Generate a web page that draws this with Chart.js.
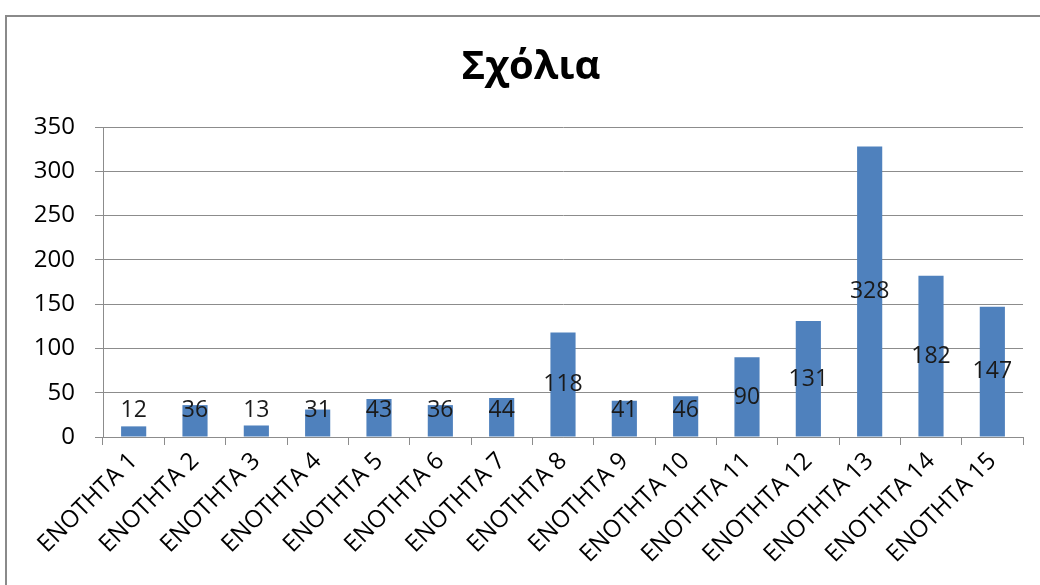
<!DOCTYPE html>
<html>
<head>
<meta charset="utf-8">
<script src="https://cdn.jsdelivr.net/npm/chart.js@4.4.1/dist/chart.umd.min.js"></script>
<style>
  html, body { margin: 0; padding: 0; background: #fff; }
  #wrap { width: 1040px; height: 585px; position: relative; }
</style>
</head>
<body>
<div id="wrap"><canvas id="c" width="1040" height="585"></canvas></div>
<script>
// Comment counts per unit
const categories = ['ΕΝΟΤΗΤΑ 1', 'ΕΝΟΤΗΤΑ 2', 'ΕΝΟΤΗΤΑ 3', 'ΕΝΟΤΗΤΑ 4', 'ΕΝΟΤΗΤΑ 5',
  'ΕΝΟΤΗΤΑ 6', 'ΕΝΟΤΗΤΑ 7', 'ΕΝΟΤΗΤΑ 8', 'ΕΝΟΤΗΤΑ 9', 'ΕΝΟΤΗΤΑ 10',
  'ΕΝΟΤΗΤΑ 11', 'ΕΝΟΤΗΤΑ 12', 'ΕΝΟΤΗΤΑ 13', 'ΕΝΟΤΗΤΑ 14', 'ΕΝΟΤΗΤΑ 15'];
const comments = [12, 36, 13, 31, 43, 36, 44, 118, 41, 46, 90, 131, 328, 182, 147];
const yTicks = [0, 50, 100, 150, 200, 250, 300, 350];
const chartTitle = 'Σχόλια';

const FONT = '"Open Sans", "DejaVu Sans", sans-serif';
const GRID = '#8c8c8c';

// Outer chart frame (open to the right and bottom) and the centred title
const framePlugin = {
  id: 'frame',
  beforeDraw(chart) {
    const ctx = chart.ctx;
    ctx.save();
    ctx.strokeStyle = '#8a8a8a';
    ctx.lineWidth = 2;
    ctx.beginPath();
    ctx.moveTo(6, 600);
    ctx.lineTo(6, 16);
    ctx.lineTo(1060, 16);
    ctx.stroke();
    ctx.font = 'bold 40px ' + FONT;
    ctx.fillStyle = '#000';
    ctx.textAlign = 'center';
    ctx.textBaseline = 'middle';
    ctx.fillText(chartTitle, 531, 68);
    ctx.restore();
  }
};

// Value labels centred in each bar, kept clear of the axis for short bars
const valueLabels = {
  id: 'valueLabels',
  afterDatasetsDraw(chart) {
    const ctx = chart.ctx;
    const yScale = chart.scales.y;
    const meta = chart.getDatasetMeta(0);
    const base = yScale.getPixelForValue(0);
    ctx.save();
    ctx.font = '23px ' + FONT;
    ctx.fillStyle = '#1a1a1a';
    ctx.textAlign = 'center';
    ctx.textBaseline = 'middle';
    meta.data.forEach((bar, i) => {
      const v = comments[i];
      let y = yScale.getPixelForValue(v / 2);
      y = Math.min(y, base - 27);
      ctx.fillText(String(v), bar.x, y);
    });
    ctx.restore();
  }
};

new Chart(document.getElementById('c'), {
  type: 'bar',
  data: {
    labels: categories,
    datasets: [{
      data: comments,
      backgroundColor: '#4f81bd',
      borderWidth: 0,
      barPercentage: 0.41,
      categoryPercentage: 1.0
    }]
  },
  options: {
    responsive: false,
    animation: false,
    devicePixelRatio: 1,
    layout: { padding: { left: 10, right: 17, top: 127, bottom: 0 } },
    plugins: {
      legend: { display: false },
      tooltip: { enabled: false },
      title: { display: false }
    },
    scales: {
      x: {
        offset: true,
        grid: {
          display: true,
          offset: true,
          drawOnChartArea: false,
          drawTicks: true,
          tickLength: 8,
          color: GRID
        },
        border: { display: true, color: GRID, width: 1 },
        ticks: {
          autoSkip: false,
          minRotation: 45,
          maxRotation: 45,
          padding: 2,
          color: '#000',
          font: { family: FONT, size: 24 }
        },
        afterFit(scale) {
          scale.height = 148;
          scale.paddingLeft = 0;
          scale.paddingRight = 0;
        }
      },
      y: {
        min: 0,
        max: 350,
        afterBuildTicks(scale) {
          scale.ticks = yTicks.map(v => ({ value: v }));
        },
        grid: {
          color: GRID,
          drawTicks: true,
          tickLength: 8,
          lineWidth: 1
        },
        border: { display: true, color: GRID, width: 1 },
        ticks: {
          padding: 20,
          color: '#000',
          font: { family: FONT, size: 24 }
        },
        afterFit(scale) {
          scale.width = 93;
          scale.paddingTop = 0;
          scale.paddingBottom = 0;
        }
      }
    }
  },
  plugins: [framePlugin, valueLabels]
});
</script>
</body>
</html>
